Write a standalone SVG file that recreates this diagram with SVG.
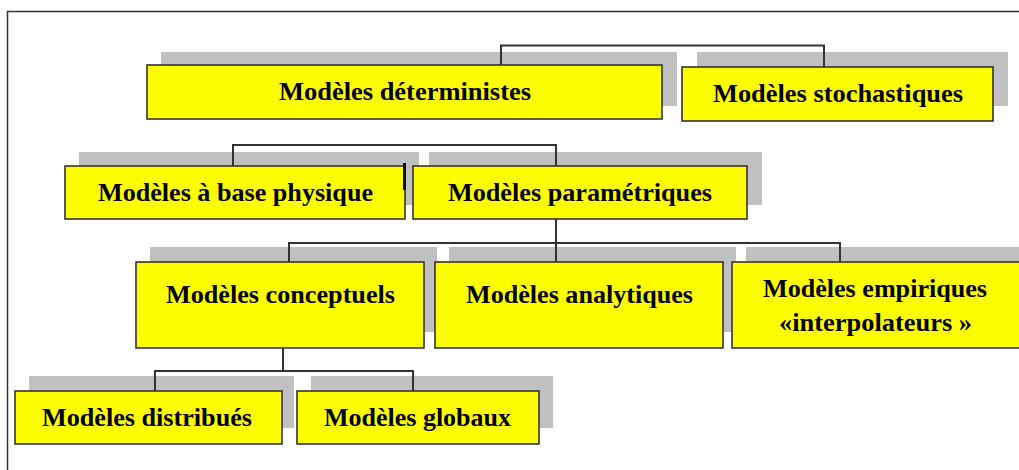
<svg xmlns="http://www.w3.org/2000/svg" width="1019" height="470" viewBox="0 0 1019 470">
  <style>
    .sh { fill: #c0c0c0; }
    .box { fill: #ffff00; stroke: #333333; stroke-width: 1.6; }
    .lbl { font-family: "Liberation Serif", "Times New Roman", serif; font-weight: bold; font-size: 25px; fill: #000000; text-anchor: start; }
    .con { fill: none; stroke: #333333; stroke-width: 2; }
    .frame { fill: none; stroke: #333333; stroke-width: 1.5; }
  </style>
  <rect x="0" y="0" width="1019" height="470" fill="#ffffff"/>
  <path class="frame" d="M7.5,470 V11.5 H1019"/>

  <g id="shadows">
    <rect class="sh" x="161" y="52" width="516" height="54"/>
    <rect class="sh" x="697" y="52" width="311" height="54"/>
    <rect class="sh" x="79" y="152" width="340" height="53"/>
    <rect class="sh" x="429" y="152" width="333" height="53"/>
    <rect class="sh" x="150" y="247" width="287" height="85"/>
    <rect class="sh" x="449" y="247" width="287" height="85"/>
    <rect class="sh" x="746" y="247" width="290" height="85"/>
    <rect class="sh" x="29" y="376" width="265" height="52"/>
    <rect class="sh" x="311" y="376" width="242" height="52"/>
  </g>

  <g id="connectors">
    <path class="con" d="M501,65 V45.5 H824 V67"/>
    <path class="con" d="M233,166 V145 H556 V166"/>
    <path class="con" d="M556,219 V243"/>
    <path class="con" d="M289,262 V243 H840 V262"/>
    <path class="con" d="M556,243 V262"/>
    <path class="con" d="M283,348 V371"/>
    <path class="con" d="M155,391 V371 H413 V391"/>
  </g>

  <g id="n-deterministes">
    <rect class="box" x="147" y="65" width="515" height="54"/>
    <text class="lbl" x="279" y="100" textLength="252" lengthAdjust="spacingAndGlyphs">Modèles déterministes</text>
  </g>
  <g id="n-stochastiques">
    <rect class="box" x="682" y="67" width="311" height="54"/>
    <text class="lbl" x="713" y="102" textLength="250" lengthAdjust="spacingAndGlyphs">Modèles stochastiques</text>
  </g>
  <g id="n-physique">
    <rect class="box" x="65" y="166" width="340" height="53"/>
    <line x1="404.5" y1="163" x2="404.5" y2="190" stroke="#111111" stroke-width="3"/>
    <text class="lbl" x="98" y="201" textLength="275" lengthAdjust="spacingAndGlyphs">Modèles à base physique</text>
  </g>
  <g id="n-parametriques">
    <rect class="box" x="413" y="166" width="334" height="53"/>
    <text class="lbl" x="448" y="201" textLength="264" lengthAdjust="spacingAndGlyphs">Modèles paramétriques</text>
  </g>
  <g id="n-conceptuels">
    <rect class="box" x="136" y="262" width="288" height="86"/>
    <text class="lbl" x="166" y="303" font-size="27" textLength="229" lengthAdjust="spacingAndGlyphs">Modèles conceptuels</text>
  </g>
  <g id="n-analytiques">
    <rect class="box" x="435" y="262" width="288" height="86"/>
    <text class="lbl" x="466" y="303" font-size="27" textLength="227" lengthAdjust="spacingAndGlyphs">Modèles analytiques</text>
  </g>
  <g id="n-empiriques">
    <rect class="box" x="732" y="262" width="300" height="86"/>
    <text class="lbl" x="763" y="297" font-size="27" textLength="224" lengthAdjust="spacingAndGlyphs">Modèles empiriques</text>
    <text class="lbl" x="779" y="331" font-size="27" textLength="193" lengthAdjust="spacingAndGlyphs">«interpolateurs »</text>
  </g>
  <g id="n-distribues">
    <rect class="box" x="15" y="391" width="267" height="53"/>
    <text class="lbl" x="42" y="426" textLength="210" lengthAdjust="spacingAndGlyphs">Modèles distribués</text>
  </g>
  <g id="n-globaux">
    <rect class="box" x="297" y="391" width="242" height="53"/>
    <text class="lbl" x="324" y="426" textLength="187" lengthAdjust="spacingAndGlyphs">Modèles globaux</text>
  </g>
</svg>
